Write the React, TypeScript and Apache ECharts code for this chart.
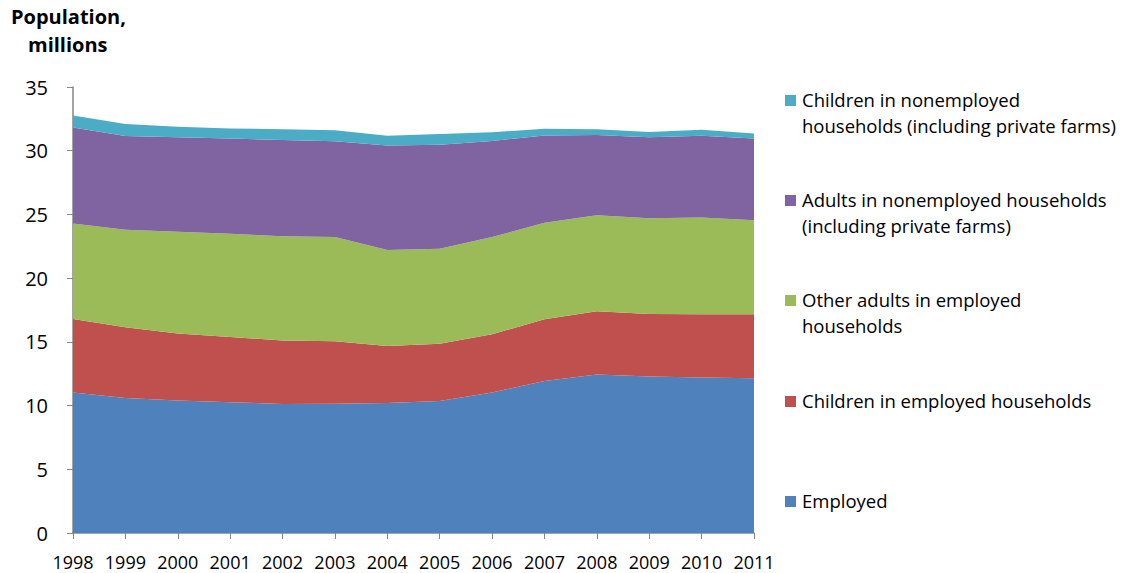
import React, { useEffect, useRef } from "react";
import * as echarts from "echarts";

const years = ["1998","1999","2000","2001","2002","2003","2004","2005","2006","2007","2008","2009","2010","2011"];
const employed = [11.03,10.59,10.40,10.27,10.12,10.14,10.20,10.35,11.03,11.92,12.44,12.28,12.20,12.15];
const childrenEmployed = [5.77,5.56,5.25,5.12,4.98,4.91,4.48,4.51,4.57,4.85,4.96,4.91,4.96,5.01];
const otherAdultsEmployed = [7.49,7.64,7.99,8.09,8.18,8.17,7.52,7.44,7.62,7.57,7.54,7.51,7.60,7.39];
const adultsNonemployed = [7.54,7.36,7.41,7.47,7.56,7.52,8.20,8.17,7.54,6.86,6.29,6.35,6.42,6.40];
const childrenNonemployed = [0.94,0.94,0.84,0.80,0.84,0.86,0.78,0.84,0.68,0.53,0.45,0.42,0.47,0.41];
const yTicks = [0, 5, 10, 15, 20, 25, 30, 35];

const seriesNames = [
  "Employed",
  "Children in employed households",
  "Other adults in employed\nhouseholds",
  "Adults in nonemployed households\n(including private farms)",
  "Children in nonemployed\nhouseholds (including private farms)",
];
const seriesData = [employed, childrenEmployed, otherAdultsEmployed, adultsNonemployed, childrenNonemployed];
const colors = ["#4F81BD", "#C0504D", "#9BBB59", "#8064A2", "#4BACC6"];
const legendY = [501, 401, 300, 200, 100];

const FONT = "'Open Sans'";

export default function App() {
  const ref = useRef<HTMLDivElement>(null);
  useEffect(() => {
    if (!ref.current) return;
    const chart = echarts.init(ref.current, undefined, { renderer: "svg" });
    const legendGraphics: any[] = [];
    seriesNames.forEach((name, i) => {
      legendGraphics.push({
        type: "rect",
        shape: { x: 785, y: legendY[i] - 5, width: 11, height: 11 },
        style: { fill: colors[i] },
      });
      legendGraphics.push({
        type: "text",
        x: 802,
        y: legendY[i] - 14,
        style: {
          text: name,
          font: `18.5px ${FONT}`,
          fill: "#000",
          lineHeight: 26.5,
          textVerticalAlign: "top",
        },
      });
    });
    chart.setOption({
      animation: false,
      backgroundColor: "#fff",
      grid: { left: 73, right: 368, top: 87, bottom: 40, containLabel: false },
      xAxis: {
        type: "category",
        data: years,
        boundaryGap: false,
        axisLine: { lineStyle: { color: "#868686", width: 1.5 } },
        axisTick: { show: true, length: 6, lineStyle: { color: "#868686" } },
        axisLabel: { color: "#000", fontSize: 18, fontFamily: FONT, margin: 20, interval: 0 },
        splitLine: { show: false },
      },
      yAxis: {
        type: "value",
        min: yTicks[0],
        max: yTicks[yTicks.length - 1],
        interval: 5,
        axisLine: { show: true, lineStyle: { color: "#868686", width: 1.5 } },
        axisTick: { show: true, length: 6, lineStyle: { color: "#868686" } },
        axisLabel: { color: "#000", fontSize: 20, fontFamily: FONT, margin: 25 },
        splitLine: { show: false },
      },
      series: seriesNames.map((name, i) => ({
        name,
        type: "line",
        stack: "total",
        data: seriesData[i],
        symbol: "none",
        lineStyle: { width: 0 },
        areaStyle: { color: colors[i], opacity: 1 },
        itemStyle: { color: colors[i] },
        z: 2,
      })),
      graphic: [
        {
          type: "text",
          x: 11,
          y: 6,
          style: {
            text: "Population,",
            font: `bold 20px ${FONT}`,
            fill: "#000",
            textVerticalAlign: "top",
          },
        },
        {
          type: "text",
          x: 28,
          y: 34,
          style: {
            text: "millions",
            font: `bold 20px ${FONT}`,
            fill: "#000",
            textVerticalAlign: "top",
          },
        },
        ...legendGraphics,
      ],
    });
    return () => chart.dispose();
  }, []);
  return <div ref={ref} style={{ width: 1122, height: 573, position: "absolute", left: 0, top: 0 }} />;
}
